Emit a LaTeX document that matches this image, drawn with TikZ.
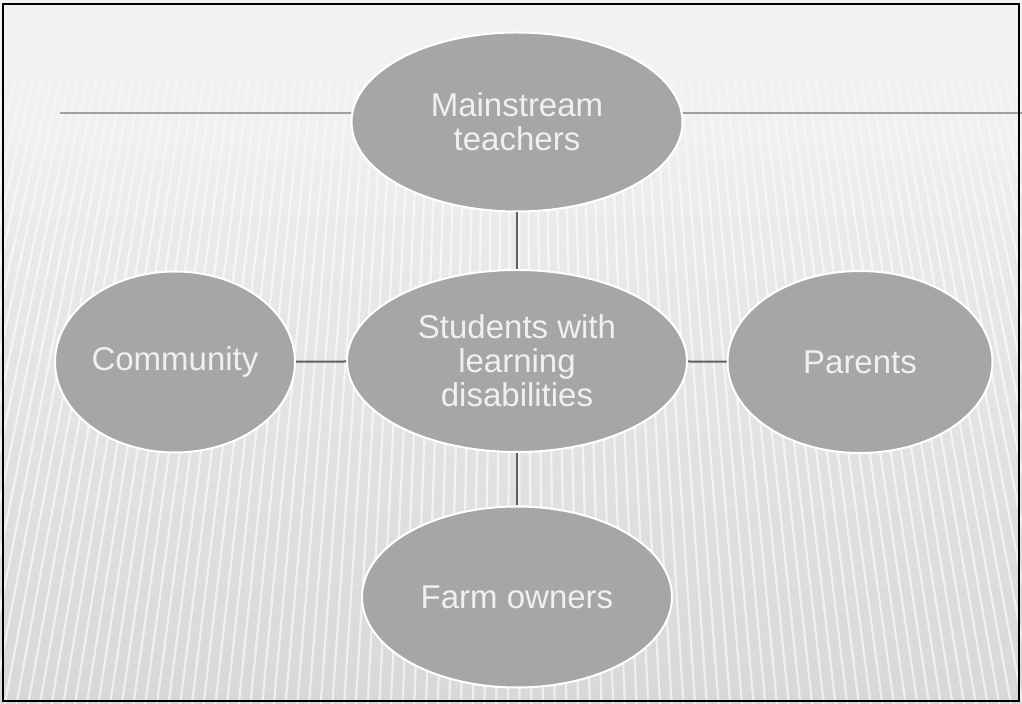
\documentclass[tikz,border=0pt]{standalone}
\usepackage{fontspec}
\setmainfont{Liberation Sans}
\usepackage{tikz}
\usetikzlibrary{shapes.geometric}
\usetikzlibrary{fadings}
\definecolor{bubblefill}{HTML}{A6A6A6}
\definecolor{bubbletext}{HTML}{F0F0F0}
\definecolor{linkgray}{HTML}{5F5F5F}
\definecolor{slidetop}{HTML}{F3F3F3}
\definecolor{slidebottom}{HTML}{D8D8D8}
\tikzset{bubble/.style={ellipse, draw=white, line width=1pt, fill=bubblefill,
   text=bubbletext, align=center, inner sep=0pt,
   font=\fontsize{16.5}{17}\selectfont}}
\tikzset{link/.style={draw=linkgray, line width=1pt}}
\tikzset{stripe/.style={white, line width=1.1pt, opacity=0.6}}

\begin{document}
\begin{tikzpicture}[x=0.5pt, y=-0.5pt]

    \useasboundingbox (0,0) rectangle (1022,704);

    \begin{scope}
      \clip (0,0) rectangle (1022,704);
      \shade[top color=slidetop, bottom color=slidebottom] (0,0) rectangle (1022,704);
      \foreach \x in {-300,-291,...,1340} {
        \draw[stripe] (\x,80) -- ({517+(\x-517)*1.3},704);
      }
      \fill[slidetop, path fading=south] (0,0) rectangle (1022,240);
      \draw[gray!75, line width=1pt] (60,113) -- (1022,113);
    \end{scope}

    \node[bubble, minimum width=165.5pt, minimum height=89.5pt] (teachers)  at (517,122) {Mainstream\\teachers};
    \node[bubble, minimum width=170pt,   minimum height=91pt]   (students)  at (517,361) {Students with\\learning\\disabilities};
    \node[bubble, minimum width=120pt,   minimum height=90.5pt] (community) at (175,362) {Community};
    \node[bubble, minimum width=132.5pt, minimum height=91pt]   (parents)   at (860,362) {Parents};
    \node[bubble, minimum width=155pt,   minimum height=90.5pt] (farm)      at (517,597) {Farm owners};

    \draw[link] (teachers) -- (students);
    \draw[link] (students) -- (farm);
    \draw[link] (community) -- (students);
    \draw[link] (students) -- (parents);

    \draw[black, line width=1pt] (3,4) rectangle (1019,701);

\end{tikzpicture}
\end{document}
